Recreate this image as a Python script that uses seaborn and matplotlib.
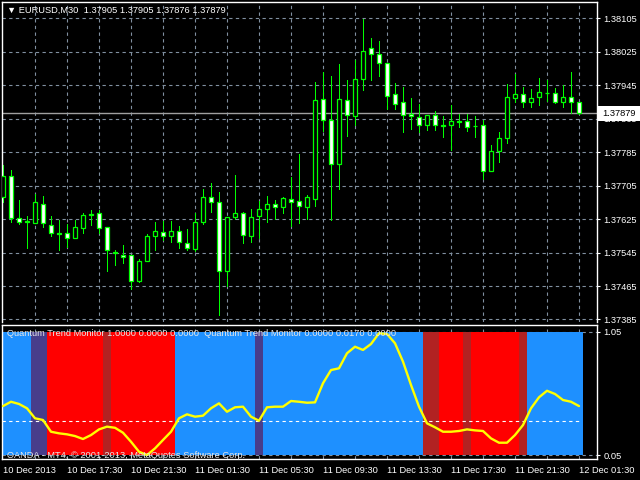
import numpy as np
import pandas as pd
import matplotlib
matplotlib.use("Agg")
import matplotlib.pyplot as plt
from matplotlib.patches import Rectangle
import seaborn as sns

# EURUSD M30 candles, 10 Dec 2013 13:30 .. 12 Dec 2013 01:30
opens = [1.37678, 1.37728, 1.37627, 1.37620, 1.37616, 1.37662, 1.37612, 1.37591, 1.37591, 1.37580,
         1.37604, 1.37636, 1.37639, 1.37605, 1.37546, 1.37540, 1.37538, 1.37477, 1.37525, 1.37584,
         1.37593, 1.37585, 1.37596, 1.37569, 1.37553, 1.37618, 1.37679, 1.37667, 1.37502, 1.37630,
         1.37639, 1.37585, 1.37633, 1.37650, 1.37661, 1.37655, 1.37672, 1.37668, 1.37654, 1.37674,
         1.37911, 1.37862, 1.37757, 1.37909, 1.37872, 1.37961, 1.38033, 1.38019, 1.37998, 1.37923,
         1.37904, 1.37876, 1.37868, 1.37851, 1.37875, 1.37850, 1.37849, 1.37859, 1.37859, 1.37848,
         1.37849, 1.37739, 1.37787, 1.37818, 1.37915, 1.37923, 1.37906, 1.37916, 1.37927, 1.37926,
         1.37906, 1.37916, 1.37905]
highs = [1.37754, 1.37742, 1.37670, 1.37632, 1.37684, 1.37680, 1.37632, 1.37624, 1.37613, 1.37624,
         1.37640, 1.37646, 1.37646, 1.37605, 1.37551, 1.37563, 1.37538, 1.37529, 1.37589, 1.37618,
         1.37621, 1.37621, 1.37608, 1.37601, 1.37639, 1.37697, 1.37711, 1.37690, 1.37629, 1.37730,
         1.37643, 1.37649, 1.37668, 1.37680, 1.37670, 1.37678, 1.37725, 1.37780, 1.37682, 1.37953,
         1.37977, 1.37967, 1.37996, 1.37957, 1.38005, 1.38103, 1.38058, 1.38051, 1.37998, 1.37950,
         1.37941, 1.37914, 1.37900, 1.37875, 1.37883, 1.37871, 1.37898, 1.37876, 1.37876, 1.37871,
         1.37862, 1.37802, 1.37833, 1.37948, 1.37972, 1.37941, 1.37936, 1.37962, 1.37957, 1.37938,
         1.37946, 1.37977, 1.37905]
lows = [1.37666, 1.37618, 1.37613, 1.37556, 1.37615, 1.37606, 1.37584, 1.37551, 1.37558, 1.37580,
        1.37592, 1.37611, 1.37592, 1.37501, 1.37515, 1.37520, 1.37459, 1.37474, 1.37525, 1.37551,
        1.37576, 1.37571, 1.37556, 1.37551, 1.37549, 1.37614, 1.37642, 1.37396, 1.37465, 1.37625,
        1.37568, 1.37571, 1.37579, 1.37617, 1.37625, 1.37640, 1.37608, 1.37616, 1.37626, 1.37657,
        1.37836, 1.37624, 1.37697, 1.37824, 1.37850, 1.37933, 1.37957, 1.37968, 1.37888, 1.37888,
        1.37834, 1.37840, 1.37834, 1.37839, 1.37839, 1.37822, 1.37791, 1.37846, 1.37836, 1.37822,
        1.37721, 1.37739, 1.37762, 1.37807, 1.37904, 1.37894, 1.37894, 1.37898, 1.37908, 1.37903,
        1.37894, 1.37878, 1.37876]
closes = [1.37728, 1.37628, 1.37618, 1.37619, 1.37667, 1.37615, 1.37592, 1.37589, 1.37581, 1.37606,
          1.37634, 1.37635, 1.37604, 1.37550, 1.37544, 1.37535, 1.37477, 1.37526, 1.37584, 1.37596,
          1.37585, 1.37596, 1.37571, 1.37557, 1.37617, 1.37677, 1.37666, 1.37502, 1.37629, 1.37639,
          1.37588, 1.37631, 1.37648, 1.37660, 1.37654, 1.37675, 1.37666, 1.37657, 1.37678, 1.37910,
          1.37861, 1.37757, 1.37911, 1.37875, 1.37961, 1.38028, 1.38019, 1.37997, 1.37920, 1.37901,
          1.37875, 1.37871, 1.37851, 1.37875, 1.37851, 1.37848, 1.37859, 1.37858, 1.37844, 1.37847,
          1.37739, 1.37787, 1.37818, 1.37918, 1.37923, 1.37906, 1.37914, 1.37928, 1.37926, 1.37906,
          1.37916, 1.37906, 1.37879]

# Quantum Trend Monitor: line value and state of each bar
trend_line = [0.447, 0.482, 0.464, 0.429, 0.348, 0.334, 0.239, 0.226, 0.218, 0.204,
              0.180, 0.212, 0.258, 0.280, 0.271, 0.231, 0.158, 0.077, 0.050, 0.104,
              0.172, 0.239, 0.348, 0.380, 0.361, 0.369, 0.429, 0.469, 0.401, 0.437,
              0.442, 0.361, 0.328, 0.437, 0.442, 0.442, 0.488, 0.482, 0.474, 0.477,
              0.632, 0.739, 0.753, 0.875, 0.928, 0.902, 0.950, 1.037, 1.031, 0.956,
              0.807, 0.618, 0.442, 0.307, 0.275, 0.239, 0.239, 0.245, 0.258, 0.250,
              0.245, 0.185, 0.150, 0.150, 0.212, 0.293, 0.429, 0.518, 0.571, 0.545,
              0.496, 0.482, 0.447]
trend_state = (["up"] * 4 + ["up_weak"] * 2 + ["down"] * 7 + ["down_weak"] + ["down"] * 8
               + ["up"] * 10 + ["up_weak"] + ["up"] * 20 + ["down_weak"] * 2 + ["down"] * 3
               + ["down_weak"] + ["down"] * 6 + ["down_weak"] + ["up"] * 7)
state_colors = {"up": "#1E90FF", "up_weak": "#483D8B", "down": "#FF0000", "down_weak": "#B22222"}

price_ticks = [1.37385, 1.37465, 1.37545, 1.37625, 1.37705, 1.37785, 1.37865, 1.37945, 1.38025, 1.38105]
time_labels = ["10 Dec 2013", "10 Dec 17:30", "10 Dec 21:30", "11 Dec 01:30", "11 Dec 05:30",
               "11 Dec 09:30", "11 Dec 13:30", "11 Dec 17:30", "11 Dec 21:30", "12 Dec 01:30"]
last_price = 1.37879
level = 0.33

sns.set_style("dark")
plt.rcParams['font.family'] = ['Liberation Sans', 'DejaVu Sans']
plt.rcParams['font.size'] = 6.5

df = pd.DataFrame({"open": opens, "high": highs, "low": lows, "close": closes})
df["bar"] = np.arange(len(df))
n = len(df)

GRID = "#8090A0"
LIME = "#00FF00"
xlim = (-0.125, 74.25)

fig = plt.figure(figsize=(6.4, 4.8), dpi=100, facecolor="black")
ax = fig.add_axes([2 / 640, 1 - 322 / 480, 595 / 640, 320 / 480])
ax2 = fig.add_axes([2 / 640, 1 - 459 / 480, 595 / 640, 134 / 480])

# ---- main price window
ax.set_facecolor("black")
ax.set_xlim(*xlim)
ax.set_ylim(1.37379, 1.38144)
ax.set_yticks(price_ticks)
ax.set_yticklabels([f"{p:.5f}" for p in price_ticks])
ax.set_xticks(range(4, n, 4))
ax.set_xticklabels([])
ax.yaxis.tick_right()
ax.tick_params(axis="y", colors="white", length=2.5, width=0.8, pad=2, labelsize=6.7)
ax.tick_params(axis="x", length=0)
ax.grid(True, color=GRID, linestyle=(0, (3, 3)), linewidth=0.8)
for sp in ax.spines.values():
    sp.set_color("white")
    sp.set_linewidth(1)
ax.spines["bottom"].set_visible(False)

ax.axhline(last_price, color="#A0A0A0", linewidth=1, zorder=1)

ax.vlines(df["bar"], df["low"], df["high"], color=LIME, linewidth=0.72,
          antialiased=False, zorder=2)
body_low = df[["open", "close"]].min(axis=1)
body_h = (df["close"] - df["open"]).abs().clip(lower=0.000004)
fills = np.where(df["close"] < df["open"], "white", "black")
ax.bar(df["bar"], body_h, bottom=body_low, width=0.58, color=fills,
       edgecolor=LIME, linewidth=0.9, zorder=3)

fig.text(7 / 640, 1 - 10 / 480, "\u25bc EURUSD,M30  1.37905 1.37905 1.37876 1.37879",
         color="white", fontsize=6.7, va="center", ha="left")

# current price marker on the price scale
fig.patches.append(Rectangle((597 / 640, 1 - 121 / 480), 43 / 640, 15 / 480,
                             transform=fig.transFigure, facecolor="white", edgecolor="none", zorder=5))
fig.text(602 / 640, 1 - 113.5 / 480, f"{last_price:.5f}", color="black", fontsize=6.7,
         va="center", ha="left", zorder=6)

# ---- indicator window
ax2.set_facecolor("black")
ax2.set_xlim(*xlim)
ax2.set_ylim(0.018, 1.104)
ax2.vlines(range(4, n, 4), 0.018, 1.104, color=GRID, linestyle=(0, (3, 3)), linewidth=0.8, zorder=0)
ax2.hlines([0.05, 1.05], *xlim, color=GRID, linestyle=(0, (3, 3)), linewidth=0.8, zorder=0)
ax2.bar(df["bar"], 1.0, bottom=0.05, width=1.0,
        color=[state_colors[s] for s in trend_state], linewidth=0, zorder=1)
ax2.hlines(level, xlim[0], n - 1, color="white", linestyle=(0, (3, 3)), linewidth=0.8, zorder=2)
sns.lineplot(x=df["bar"], y=trend_line, ax=ax2, color="#FFFF00", linewidth=1.7, zorder=3, legend=False)
ax2.set_xlabel("")
ax2.set_ylabel("")

ax2.set_xticks(range(0, n, 8))
ax2.set_xticklabels(time_labels, ha="left")
ax2.set_yticks([0.05, 1.05])
ax2.set_yticklabels(["0.05", "1.05"])
ax2.yaxis.tick_right()
ax2.tick_params(axis="x", colors="white", length=3, width=0.8, pad=2, labelsize=6.7)
ax2.tick_params(axis="y", colors="white", length=2.5, width=0.8, pad=2, labelsize=6.7)
for sp in ax2.spines.values():
    sp.set_color("white")
    sp.set_linewidth(1)

ax2.text(0.008, 1 - 9 / 134,
         "Quantum Trend Monitor 1.0000 0.0000 0.0000  Quantum Trend Monitor 0.0000 0.0170 0.0000",
         transform=ax2.transAxes, color="#E8E8E8", fontsize=6.7, va="center", ha="left", zorder=4)
ax2.text(0.008, 1 - 130 / 134, "OANDA - MT4, \u00a9 2001-2013, MetaQuotes Software Corp.",
         transform=ax2.transAxes, color="#E8E8E8", fontsize=6.7, va="center", ha="left", zorder=4)

fig.savefig("out.png", dpi=100, facecolor="black")
